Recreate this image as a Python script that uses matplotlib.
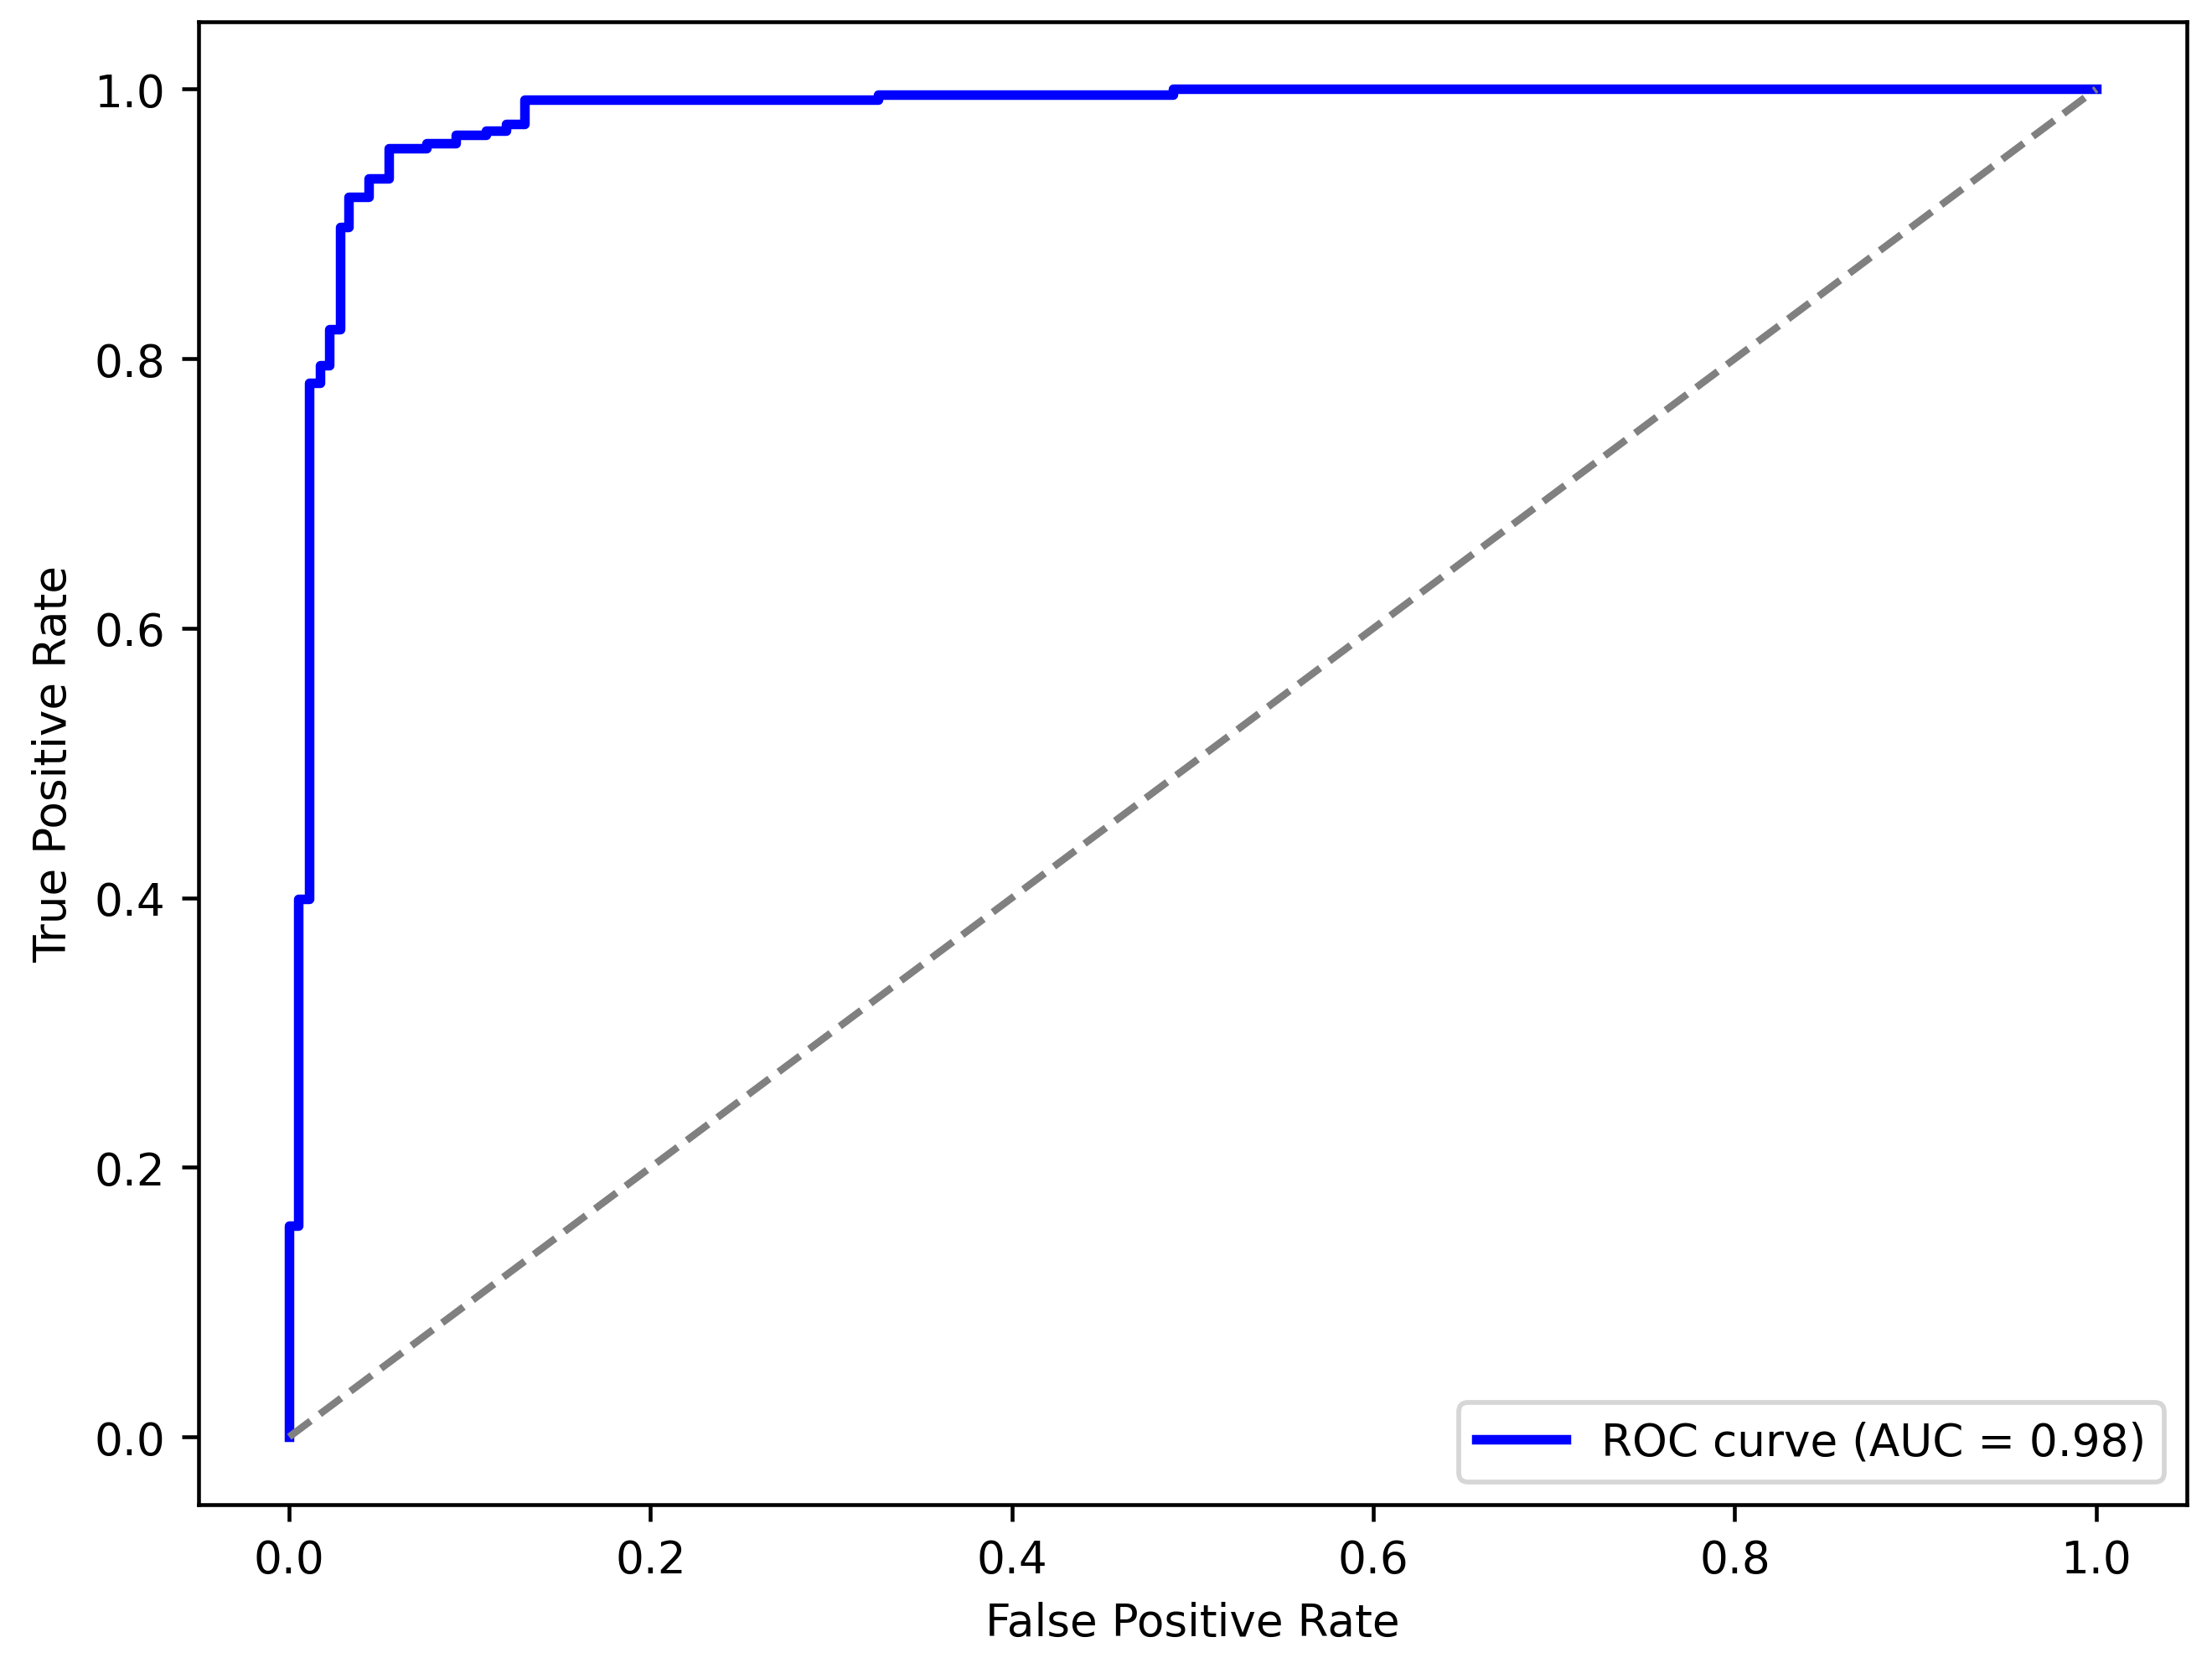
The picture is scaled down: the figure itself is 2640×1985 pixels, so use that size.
import matplotlib
matplotlib.use("Agg")
import matplotlib.pyplot as plt

# corner points of the ROC curve
fpr = [0.0, 0.0, 0.005, 0.005, 0.011, 0.011, 0.017, 0.017, 0.022, 0.022,
       0.028, 0.028, 0.033, 0.033, 0.044, 0.044, 0.055, 0.055, 0.076, 0.076,
       0.092, 0.092, 0.109, 0.109, 0.120, 0.120, 0.130, 0.130, 0.326, 0.326,
       0.489, 0.489, 1.0]
tpr = [0.0, 0.157, 0.157, 0.399, 0.399, 0.782, 0.782, 0.795, 0.795, 0.822,
       0.822, 0.898, 0.898, 0.920, 0.920, 0.934, 0.934, 0.956, 0.956, 0.960,
       0.960, 0.966, 0.966, 0.969, 0.969, 0.974, 0.974, 0.992, 0.992, 0.996,
       0.996, 1.0, 1.0]
auc = 0.98

plt.rcParams['font.size'] = 9.3

fig = plt.figure(figsize=(6.4, 4.8145), dpi=412.5)
ax = fig.add_axes([0.0899, 0.0954, 0.8986, 0.891])

ax.plot(fpr, tpr, color='blue', lw=2, label=f'ROC curve (AUC = {auc:.2f})')
ax.plot([0, 1], [0, 1], color='gray', linestyle='--')
ax.set_xlabel('False Positive Rate')
ax.set_ylabel('True Positive Rate')
ax.legend(loc='lower right')

fig.savefig('out.png', dpi=412.5)
